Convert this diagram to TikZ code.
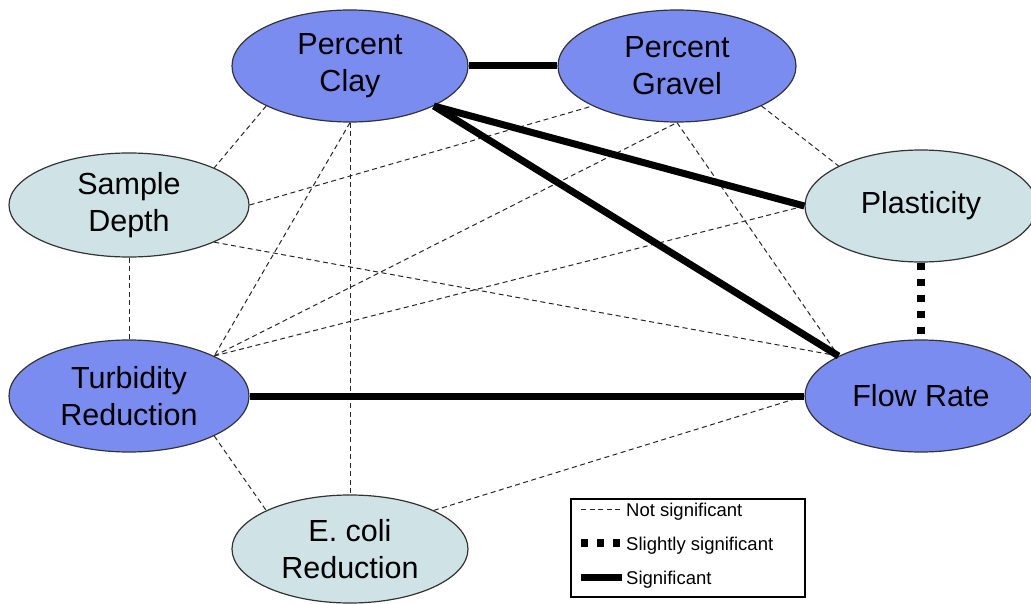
\documentclass[tikz,border=0pt]{standalone}
\usepackage{fontspec}
\setmainfont{Liberation Sans}
\usetikzlibrary{shapes.geometric}
\definecolor{darkblob}{HTML}{7B8CF0}
\definecolor{lightblob}{HTML}{CFE3E6}

\begin{document}
\begin{tikzpicture}[x=1pt,y=-1pt]
        \tikzstyle{var}=[ellipse,draw=black!80,line width=1.2pt,inner sep=0pt,minimum width=236pt,minimum height=112pt,align=center,font=\fontsize{30.5}{37}\selectfont]
        \tikzstyle{main}=[var,fill=darkblob]
        \tikzstyle{side}=[var,fill=lightblob]
        \tikzstyle{notsig}=[draw=black!85,line width=1pt,dash pattern=on 5pt off 3.5pt]
        \tikzstyle{slightsig}=[draw=black,line width=8pt,dash pattern=on 7pt off 9pt]
        \tikzstyle{sig}=[draw=black,line width=7pt]
        \tikzstyle{legtext}=[anchor=base west,inner sep=0pt,font=\fontsize{18.5}{22}\selectfont]
        \useasboundingbox (0,0) rectangle (1031,604);
        \node[main] (v_clay) at (350,66) {Percent\\Clay};
        \node[main,minimum width=238pt] (v_gravel) at (677,66) {Percent\\Gravel};
        \node[side,minimum width=240pt,minimum height=104pt] (v_depth) at (129,205) {Sample\\Depth};
        \node[side,minimum width=232pt] (v_plast) at (921,206) {Plasticity};
        \node[main,minimum width=240pt] (v_turb) at (129,396) {Turbidity\\Reduction};
        \node[main,minimum width=232pt] (v_flow) at (921,396) {Flow Rate};
        \node[side,minimum height=108pt] (v_ecoli) at (350,549) {E. coli\\Reduction};
        % not significant
        \draw[notsig] (v_clay.south west) -- (v_depth.north east);
        \draw[notsig] (v_clay.south) -- (v_turb.north east);
        \draw[notsig] (v_clay.south) -- (v_ecoli.north);
        \draw[notsig] (v_depth.east) -- (v_gravel.south west);
        \draw[notsig] (v_depth.south east) -- (v_flow.north west);
        \draw[notsig] (v_depth.south) -- (v_turb.north);
        \draw[notsig] (v_turb.north east) -- (v_gravel.south);
        \draw[notsig] (v_turb.north east) -- (v_plast.west);
        \draw[notsig] (v_gravel.south) -- (v_flow.north west);
        \draw[notsig] (v_gravel.south east) -- (v_plast.north west);
        \draw[notsig] (v_turb.south east) -- (v_ecoli.north west);
        \draw[notsig] (v_ecoli.north east) -- (v_flow.west);
        % significant
        \draw[sig] (v_clay.east) -- (v_gravel.west);
        \draw[sig] (v_clay.south east) -- (v_plast.west);
        \draw[sig] (v_clay.south east) -- (v_flow.north west);
        \draw[sig] (v_turb.east) -- (v_flow.west);
        \draw[slightsig] (v_plast.south) -- (v_flow.north);
        % legend
        \node[draw,line width=1.5pt,minimum width=234pt,minimum height=98pt,anchor=north west] (key) at (570,498) {};
        \node[legtext] (l_1) at (626,516) {Not significant};
        \node[legtext] (l_2) at (626,550) {Slightly significant};
        \node[legtext] (l_3) at (626,584) {Significant};
        \coordinate (k_1) at (581,509);
        \coordinate (k_2) at (581,543);
        \coordinate (k_3) at (581,577);
        \draw[notsig] (k_1) -- ++(40,0);
        \draw[slightsig] (k_2) -- ++(39,0);
        \draw[sig] (k_3) -- ++(41,0);
      \end{tikzpicture}
\end{document}
